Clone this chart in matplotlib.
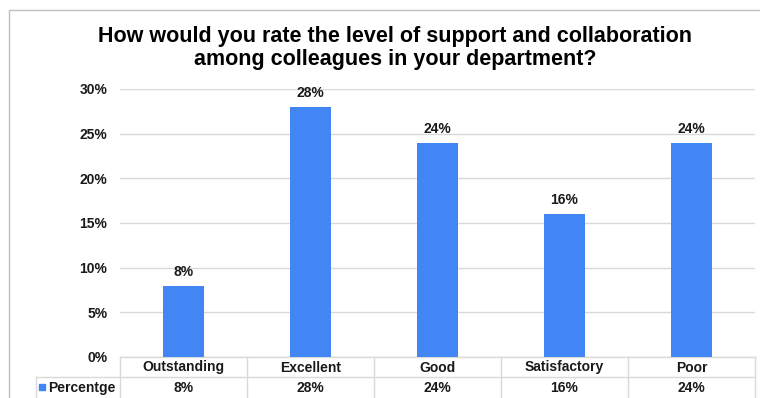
import matplotlib
matplotlib.use('Agg')

import matplotlib.pyplot as plt
from matplotlib.lines import Line2D
from matplotlib.patches import Rectangle
from matplotlib.ticker import FuncFormatter, MultipleLocator

# survey answers and share of respondents
categories = ['Outstanding', 'Excellent', 'Good', 'Satisfactory', 'Poor']
percentages = [8, 28, 24, 16, 24]
series_name = 'Percentge'
title = ('How would you rate the level of support and collaboration\n'
         'among colleagues in your department?')

BAR_BLUE = '#4285F4'
GRID_GREY = '#D9D9D9'
BORDER_GREY = '#C0C0C0'
TEXT = '#1A1A1A'
LABEL_SIZE = 10

W, H = 760, 398
plt.rcParams['font.family'] = ['Liberation Sans', 'DejaVu Sans']
plt.rcParams['font.weight'] = 'bold'

fig = plt.figure(figsize=(W / 100, H / 100), dpi=100)
fig.patch.set_facecolor('white')


def fx(px):
    return px / W


def fy(py):
    return 1 - py / H


# chart frame
fig.add_artist(Rectangle((fx(9), fy(H + 5)), 1.0, fy(10) - fy(H + 5),
                         transform=fig.transFigure, fill=False,
                         edgecolor=BORDER_GREY, linewidth=1.0))

ax_left, ax_right, ax_top, ax_bottom = 120, 755, 89, 357
ax = fig.add_axes([fx(ax_left), fy(ax_bottom), fx(ax_right - ax_left),
                   fy(ax_top) - fy(ax_bottom)])

x = list(range(len(categories)))
values = [p / 100 for p in percentages]
ax.bar(x, values, width=0.315, color=BAR_BLUE, zorder=3)
for xi, v, p in zip(x, values, percentages):
    ax.annotate(f'{p}%', (xi, v), xytext=(0, 5), textcoords='offset points',
                ha='center', va='bottom', fontsize=LABEL_SIZE,
                fontweight='bold', color=TEXT)

ax.set_xlim(-0.5, len(categories) - 0.5)
ax.set_ylim(0, 0.30)
ax.yaxis.set_major_locator(MultipleLocator(0.05))
ax.yaxis.set_major_formatter(FuncFormatter(lambda v, _: f'{v * 100:.0f}%'))
ax.yaxis.grid(True, color=GRID_GREY, linewidth=1.0, zorder=0)
ax.set_axisbelow(True)
for side in ['top', 'right', 'left', 'bottom']:
    ax.spines[side].set_visible(False)
ax.tick_params(axis='y', length=0, pad=9, labelsize=LABEL_SIZE,
               labelcolor=TEXT)
ax.tick_params(axis='x', length=0, labelbottom=False)

# data table under the plot
row_lines = [357, 377, H + 2]
col_edges = [c - 0.5 for c in range(len(categories) + 1)]
xtrans = ax.get_xaxis_transform()


def ay(py):
    return (ax_bottom - py) / (ax_bottom - ax_top)


for py in row_lines:
    ax.plot([-0.5, len(categories) - 0.5], [ay(py), ay(py)], transform=xtrans,
            color=GRID_GREY, linewidth=1.0, clip_on=False)
for ce in col_edges:
    ax.plot([ce, ce], [ay(row_lines[0]), ay(row_lines[-1])], transform=xtrans,
            color=GRID_GREY, linewidth=1.0, clip_on=False)
fig.add_artist(Line2D([fx(36), fx(ax_left)], [fy(377), fy(377)],
                      color=GRID_GREY, linewidth=1.0))
fig.add_artist(Line2D([fx(36), fx(36)], [fy(377), fy(H + 2)],
                      color=GRID_GREY, linewidth=1.0))

for xi, cat, p in zip(x, categories, percentages):
    ax.text(xi, ay(367.5), cat, transform=xtrans, ha='center', va='center',
            fontsize=LABEL_SIZE, fontweight='bold', color=TEXT)
    ax.text(xi, ay(388), f'{p}%', transform=xtrans, ha='center',
            va='center', fontsize=LABEL_SIZE, fontweight='bold', color=TEXT)

fig.add_artist(Rectangle((fx(39), fy(390)), fx(6), fy(384) - fy(390),
                         transform=fig.transFigure, color=BAR_BLUE))
fig.text(fx(48), fy(388), series_name, ha='left', va='center',
         fontsize=LABEL_SIZE, fontweight='bold', color=TEXT)

fig.text(fx(395), fy(26), title, ha='center', va='top', fontsize=15.5,
         fontweight='bold', color='black', linespacing=1.1)

fig.savefig('out.png', dpi=100, facecolor='white')
